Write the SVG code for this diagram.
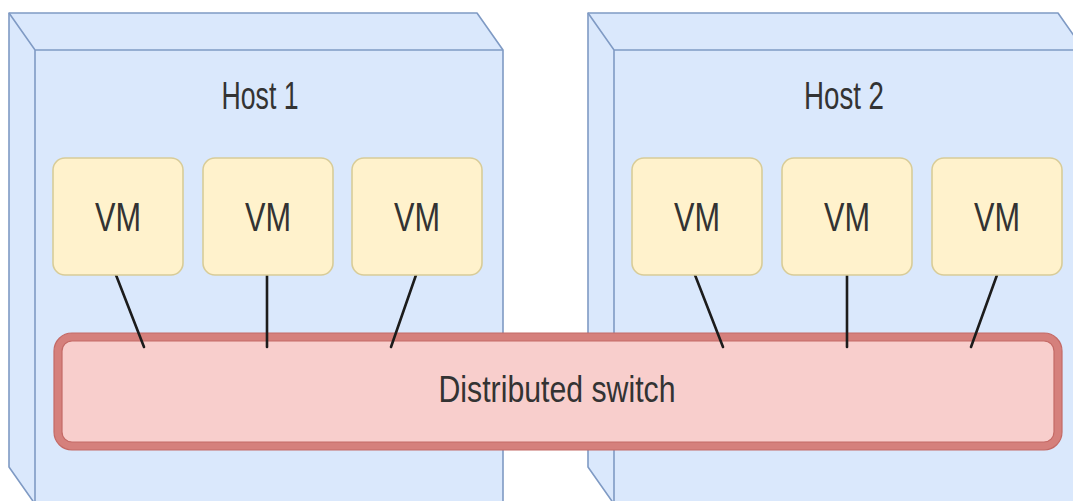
<svg xmlns="http://www.w3.org/2000/svg" width="1073" height="501" viewBox="0 0 1073 501">
  <style>
    .host-body { fill: #dae8fc; stroke: #7f9ac4; stroke-width: 1.6; stroke-linejoin: round; }
    .host-edge { fill: none; stroke: #7f9ac4; stroke-width: 1.6; }
    .vm { fill: #fff2cc; stroke: #d8cc98; stroke-width: 1.6; }
    .label { font-family: "Liberation Sans", Arial, sans-serif; fill: #333333; text-anchor: middle; }
    .link { stroke: #1c1c1c; stroke-width: 2.6; stroke-linecap: round; fill: none; }
  </style>
  <rect width="1073" height="501" fill="#ffffff"/>

  <!-- Host 1: cube with depth on the left and top -->
  <g id="host1">
    <path class="host-body" d="M9,13 H477 L503,50 V504 H35 L9,467 Z"/>
    <path class="host-edge" d="M9,13 L35,50 H503 M35,50 V504"/>
    <text class="label" x="260" y="109" font-size="39" textLength="77" lengthAdjust="spacingAndGlyphs">Host 1</text>
  </g>

  <!-- Host 2 -->
  <g id="host2">
    <path class="host-body" d="M588,13 H1058 L1084,50 V504 H614 L588,467 Z"/>
    <path class="host-edge" d="M588,13 L614,50 H1084 M614,50 V504"/>
    <text class="label" x="844" y="109" font-size="39" textLength="80" lengthAdjust="spacingAndGlyphs">Host 2</text>
  </g>

  <!-- Distributed switch spanning both hosts -->
  <g id="switch">
    <rect x="58" y="337" width="1000" height="109" rx="14" fill="#f8cecc" stroke="#d5807c" stroke-width="8"/>
    <rect x="54" y="333" width="1008" height="117" rx="18" fill="none" stroke="#c46a66" stroke-width="1.2"/>
    <rect x="62" y="341" width="992" height="101" rx="10" fill="none" stroke="#c46a66" stroke-width="1.2"/>
    <text class="label" x="557" y="402" font-size="37" textLength="237" lengthAdjust="spacingAndGlyphs">Distributed switch</text>
  </g>

  <!-- Links from each VM to the switch -->
  <g id="connectors">
    <line class="link" x1="116" y1="275" x2="144" y2="347"/>
    <line class="link" x1="267" y1="275" x2="267" y2="347"/>
    <line class="link" x1="416" y1="275" x2="391" y2="347"/>
    <line class="link" x1="695" y1="275" x2="723" y2="347"/>
    <line class="link" x1="847" y1="275" x2="847" y2="347"/>
    <line class="link" x1="997" y1="275" x2="971" y2="347"/>
  </g>

  <!-- Virtual machines -->
  <g id="vm-h1-1">
    <rect class="vm" x="53" y="158" width="130" height="117" rx="12"/>
    <text class="label" x="118" y="231" font-size="41" textLength="46" lengthAdjust="spacingAndGlyphs">VM</text>
  </g>
  <g id="vm-h1-2">
    <rect class="vm" x="203" y="158" width="130" height="117" rx="12"/>
    <text class="label" x="268" y="231" font-size="41" textLength="46" lengthAdjust="spacingAndGlyphs">VM</text>
  </g>
  <g id="vm-h1-3">
    <rect class="vm" x="352" y="158" width="130" height="117" rx="12"/>
    <text class="label" x="417" y="231" font-size="41" textLength="46" lengthAdjust="spacingAndGlyphs">VM</text>
  </g>
  <g id="vm-h2-1">
    <rect class="vm" x="632" y="158" width="130" height="117" rx="12"/>
    <text class="label" x="697" y="231" font-size="41" textLength="46" lengthAdjust="spacingAndGlyphs">VM</text>
  </g>
  <g id="vm-h2-2">
    <rect class="vm" x="782" y="158" width="130" height="117" rx="12"/>
    <text class="label" x="847" y="231" font-size="41" textLength="46" lengthAdjust="spacingAndGlyphs">VM</text>
  </g>
  <g id="vm-h2-3">
    <rect class="vm" x="932" y="158" width="130" height="117" rx="12"/>
    <text class="label" x="997" y="231" font-size="41" textLength="46" lengthAdjust="spacingAndGlyphs">VM</text>
  </g>
</svg>
